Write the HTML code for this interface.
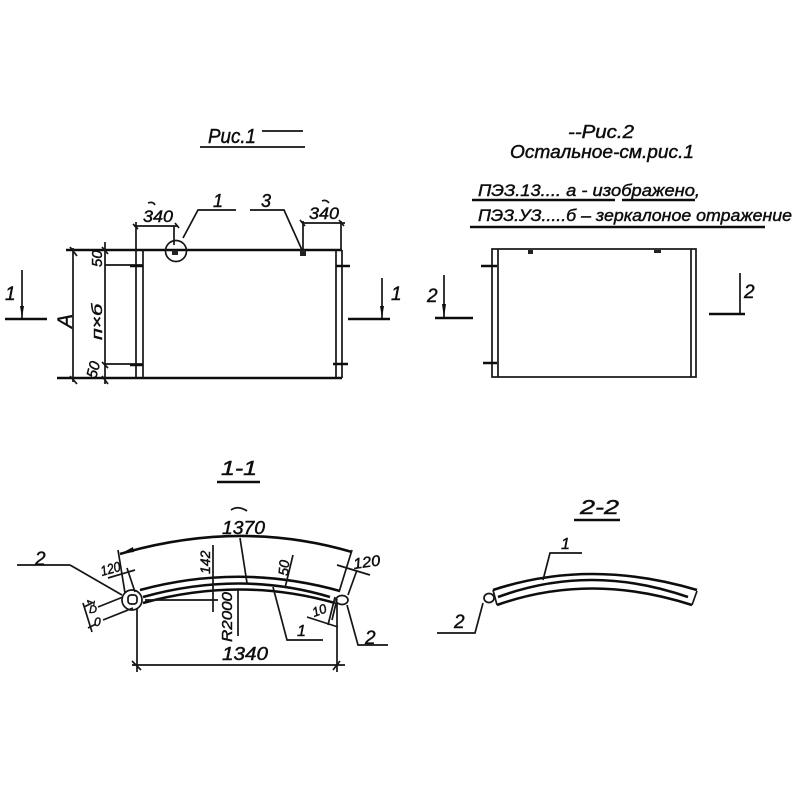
<!DOCTYPE html>
<html><head><meta charset="utf-8"><style>
html,body{margin:0;padding:0;background:#fff}
svg{display:block}
text{font-family:"Liberation Sans",sans-serif;font-style:italic;fill:#111;stroke:#111;stroke-width:.45}
.l{fill:none;stroke:#151515;stroke-width:1.7}
.t{fill:none;stroke:#111;stroke-width:2.6}
</style></head><body>
<svg width="800" height="800" viewBox="0 0 800 800" xmlns="http://www.w3.org/2000/svg">
<defs><filter id="b"><feGaussianBlur stdDeviation="0.35"/></filter></defs>
<g filter="url(#b)">

<!-- titles -->
<text x="208" y="143" font-size="20" textLength="48" lengthAdjust="spacingAndGlyphs">Рис.1</text>
<path class="l" d="M200 147H305M262 131H303"/>
<text x="568" y="138" font-size="18" textLength="66" lengthAdjust="spacingAndGlyphs">--Рис.2</text>
<text x="510" y="158" font-size="18" textLength="184" lengthAdjust="spacingAndGlyphs">Остальное-см.рис.1</text>
<text x="478" y="196" font-size="17" textLength="222" lengthAdjust="spacingAndGlyphs">ПЭЗ.13.... а - изображено,</text>
<path class="t" d="M472 200H615M622 200H695"/>
<text x="478" y="221" font-size="17" textLength="314" lengthAdjust="spacingAndGlyphs">ПЭЗ.УЗ.....б – зеркалоное отражение</text>
<path class="t" d="M470 227H765"/>

<!-- Fig 1 -->
<path class="t" d="M66 250H342M57 378H342"/>
<path class="l" d="M136 250V378M143 250V378M336 250V378M342 250V378"/>
<path class="l" d="M73 248V382M105 242V384M105 265H143M105 364H143"/>
<path class="t" d="M130 266H143M130 365H143M336 266H350M333 364H348"/>
<path class="l" d="M136 222V250M134 226H178M174 226V245M303 221V250M302 223H345M341 221V250"/>
<path class="l" d="M70 247L77 256M102 247L108 254M70 376L77 384M102 376L108 384M102 362L108 368M133 224L138 229M175 223L179 228M300 220L305 226M339 220L344 226"/>
<circle cx="176" cy="251" r="10.500" class="l" stroke-width="2"/>
<rect x="172" y="250" width="6" height="5" fill="#222"/>
<rect x="300" y="250" width="6" height="6" fill="#222"/>
<path class="l" d="M183 238L198 210H236M250 210H284L302 250"/>
<text x="143" y="222" font-size="17" textLength="30" lengthAdjust="spacingAndGlyphs">340</text>
<text x="309" y="219" font-size="17" textLength="30" lengthAdjust="spacingAndGlyphs">340</text>
<text x="213" y="207" font-size="18">1</text>
<text x="261" y="207" font-size="18">3</text>
<path class="l" d="M148 203Q153 201 155 205M322 201Q326 199 329 203"/>
<text transform="translate(102 267) rotate(-90)" font-size="15">50</text>
<text transform="translate(102 340) rotate(-90)" font-size="15" textLength="36" lengthAdjust="spacingAndGlyphs">п×б</text>
<text transform="translate(96 379) rotate(-75)" font-size="15">50</text>
<text transform="translate(72 328) rotate(-90)" font-size="21">А</text>

<path class="l" d="M22 270V318"/><path d="M20 306H24L22 318Z" fill="#111"/>
<path class="t" d="M5 319H47M348 319H390"/>
<path class="l" d="M382 278V318"/><path d="M380 306H384L382 318Z" fill="#111"/>
<text x="5" y="300" font-size="19">1</text>
<text x="391" y="300" font-size="19">1</text>

<!-- Fig 2 -->
<rect x="492" y="249" width="204" height="128" class="l" stroke-width="2"/>
<path class="l" d="M498 249V377M691 249V377"/>
<path class="t" d="M481 266H497M483 363H497"/>
<rect x="528" y="250" width="5" height="4" fill="#222"/>
<rect x="654" y="250" width="7" height="3" fill="#222"/>
<path class="l" d="M444 275V318M740 273V314"/><path d="M442 304H446L444 318Z" fill="#111"/>
<path class="t" d="M435 318H473M709 314H745"/>
<text x="427" y="302" font-size="19">2</text>
<text x="744" y="298" font-size="19">2</text>

<!-- 1-1 -->
<text x="221" y="475" font-size="20" textLength="36" lengthAdjust="spacingAndGlyphs">1-1</text>
<path class="t" d="M217 482H260"/>
<path class="t" d="M140 590Q240 563 340 591M143 597Q240 570 330 597M143 603Q240 576 335 603"/>
<ellipse cx="342" cy="600" rx="6" ry="4.500" class="l" stroke-width="2"/>
<circle cx="132" cy="600" r="10" class="l" stroke-width="2"/>
<rect x="128" y="595" width="9" height="9" rx="3" class="l"/>
<path class="t" d="M120 554Q240 519 352 552" stroke-width="2"/>
<path d="M120 554L133 547L134 552Z" fill="#111"/>
<path class="l" d="M118 550L125 593M127 568L135 592M108 578L135 570M352 550L339 592M357 570L348 595M337 565L370 575M70 565H17M70 565L122 595M98 607L123 597M103 620L133 608M83 603L92 632M145 600H218M213 545V612M293 555L285 588M240 538L247 583M273 587L287 640H323M238 590V636M307 617L338 627M335 597L328 625M337 599L332 620M347 605L358 645H388M137 608V672M337 603V672M132 665H345"/>
<path class="l" d="M132 661L141 670M340 661L333 670M84 607L92 603M88 628L96 624"/>
<text x="222" y="534" font-size="18" textLength="43" lengthAdjust="spacingAndGlyphs">1370</text>
<path class="l" d="M231 510Q238 505 247 511"/>
<text x="222" y="660" font-size="18" textLength="46" lengthAdjust="spacingAndGlyphs">1340</text>
<text x="35" y="565" font-size="19">2</text>
<text transform="translate(102 576) rotate(-15)" font-size="14" textLength="20" lengthAdjust="spacingAndGlyphs">120</text>
<text transform="translate(354 569) rotate(-8)" font-size="15" textLength="27" lengthAdjust="spacingAndGlyphs">120</text>
<text transform="translate(210 574) rotate(-90)" font-size="14">142</text>
<text transform="translate(288 576) rotate(-85)" font-size="14">50</text>
<text transform="translate(232 642) rotate(-90)" font-size="15" textLength="50" lengthAdjust="spacingAndGlyphs">R2000</text>
<text transform="translate(94 606) rotate(-80)" font-size="11">1</text>
<text x="89" y="613" font-size="11">D</text>
<text x="94" y="626" font-size="12">0</text>
<text transform="translate(314 617) rotate(-20)" font-size="13">10</text>
<text x="297" y="636" font-size="16">1</text>
<text x="365" y="644" font-size="19">2</text>

<!-- 2-2 -->
<text x="580" y="514" font-size="20" textLength="39" lengthAdjust="spacingAndGlyphs">2-2</text>
<path class="t" d="M574 520H620"/>
<path class="t" d="M493 590Q590 558 697 590M498 597Q590 563 688 597M497 605Q590 572 692 605"/>
<path class="l" d="M493 590L497 605M697 591L692 605"/>
<ellipse cx="489" cy="598" rx="5" ry="4.500" class="l" stroke-width="2"/>
<path class="l" d="M483 603L475 633H437M543 580L550 553H582"/>
<text x="561" y="549" font-size="16">1</text>
<text x="454" y="628" font-size="19">2</text>
</g>
</svg>
</body></html>
